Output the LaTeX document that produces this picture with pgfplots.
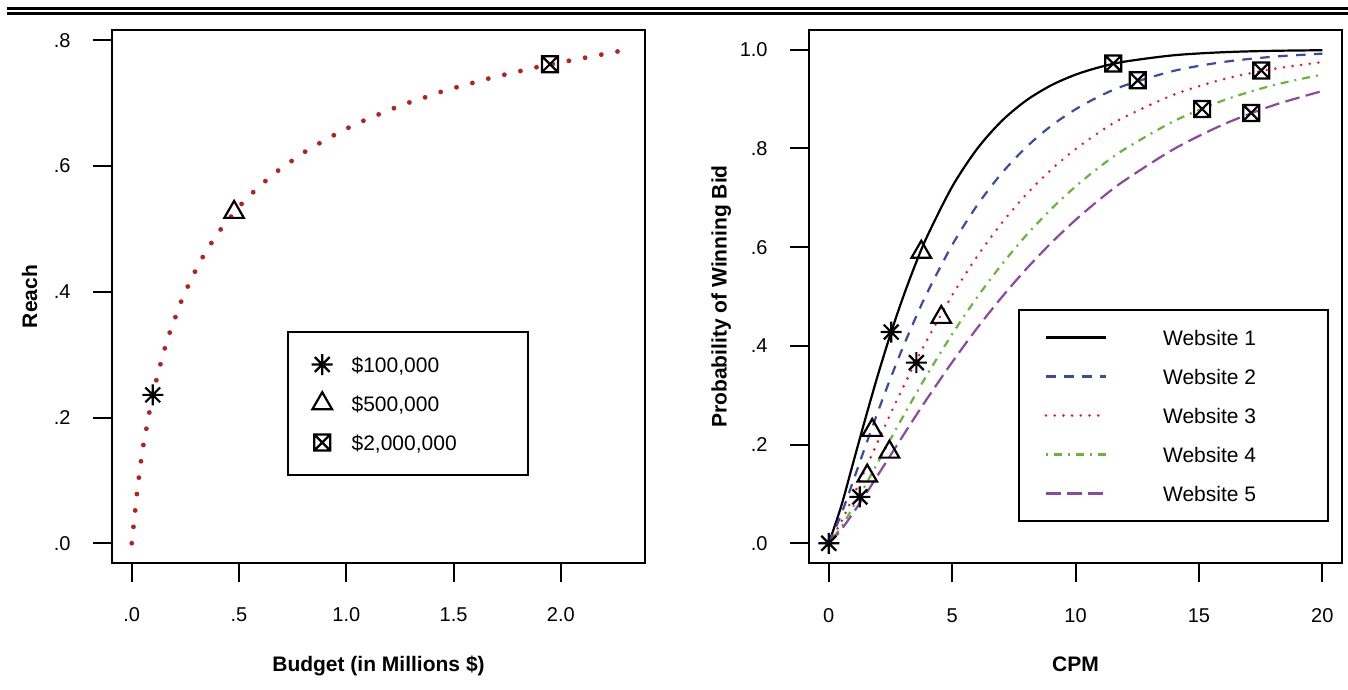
\documentclass[border=0pt]{standalone}
\usepackage{fontspec}
\setmainfont{Liberation Sans}
\usepackage{pgfplots}
\pgfplotsset{compat=1.18}

\definecolor{reach}{HTML}{B22222}
\definecolor{wblue}{HTML}{3A4BA0}
\definecolor{wred}{HTML}{F0141E}
\definecolor{wgreen}{HTML}{6CB33E}
\definecolor{wpurple}{HTML}{8A4A9E}

\pgfdeclareplotmark{rast}{%
  \pgfpathmoveto{\pgfqpoint{-5.25pt}{0pt}}\pgfpathlineto{\pgfqpoint{5.25pt}{0pt}}%
  \pgfpathmoveto{\pgfqpoint{0pt}{-5.25pt}}\pgfpathlineto{\pgfqpoint{0pt}{5.25pt}}%
  \pgfpathmoveto{\pgfqpoint{-3.7pt}{-3.7pt}}\pgfpathlineto{\pgfqpoint{3.7pt}{3.7pt}}%
  \pgfpathmoveto{\pgfqpoint{-3.7pt}{3.7pt}}\pgfpathlineto{\pgfqpoint{3.7pt}{-3.7pt}}%
  \pgfusepathqstroke}
\pgfdeclareplotmark{sqx}{%
  \pgfpathrectangle{\pgfqpoint{-4pt}{-4pt}}{\pgfqpoint{8pt}{8pt}}%
  \pgfpathmoveto{\pgfqpoint{-4pt}{-4pt}}\pgfpathlineto{\pgfqpoint{4pt}{4pt}}%
  \pgfpathmoveto{\pgfqpoint{-4pt}{4pt}}\pgfpathlineto{\pgfqpoint{4pt}{-4pt}}%
  \pgfusepathqstroke}

\newcommand{\lfont}{\fontsize{10.5}{12.5}\selectfont}

\pgfplotsset{
  base/.style={
    scale only axis, width=266.5pt, height=266.5pt,
    anchor=south west,
    axis line style={line width=1pt},
    tick align=outside, major tick length=9.5pt,
    tick pos=left,
    major tick style={line width=1pt, black},
    xticklabel style={anchor=base, yshift=-20pt, inner sep=0pt},
    yticklabel style={anchor=east, xshift=-11pt, inner sep=0pt},
    label style={font=\lfont\bfseries},
    xlabel style={at={(axis description cs:0.5,-0.2045)}, anchor=base},
    clip=false,
  },
  mk/.style={only marks, black, mark options={line width=1.1pt, solid}},
}

\begin{document}
\begin{tikzpicture}
\path[use as bounding box, fill=white] (0,0) rectangle (674pt,345pt);
\draw[line width=1.5pt] (3.5pt,340.6pt) -- (674pt,340.6pt);
\draw[line width=1.25pt] (3.5pt,338.2pt) -- (674pt,338.2pt);

% ---------------- left panel ----------------
\begin{axis}[base, at={(56pt,63.5pt)},
  xmin=-0.092, xmax=2.392, ymin=-0.0314, ymax=0.8164,
  xtick={0,0.5,1,1.5,2}, xticklabels={.0,.5,1.0,1.5,2.0},
  ytick={0,0.2,0.4,0.6,0.8}, yticklabels={.0,.2,.4,.6,.8},
  xlabel={Budget (in Millions \$)}, ylabel={Reach},
  ylabel style={at={(axis description cs:-0.1407,0.5)}, anchor=base},
  legend image code/.code={\draw[#1, mark repeat=1] plot coordinates {(0pt,0pt)};},
  legend cell align=left,
  legend style={at={(axis description cs:0.3278,0.4358)}, anchor=north west,
    draw=black, line width=1pt, inner xsep=12pt, inner ysep=9.4pt,
    row sep=5.5pt, column sep=9.45pt, font=\lfont,
    nodes={inner sep=0pt, minimum height=14pt, text height=7.5pt, text depth=0pt}},
]
\addlegendimage{mk, mark=rast}
\addlegendentry{\makebox[76pt][l]{\$100,000}}
\addlegendimage{mk, mark=triangle, mark size=5.65pt}
\addlegendentry{\makebox[76pt][l]{\$500,000}}
\addlegendimage{mk, mark=sqx}
\addlegendentry{\makebox[76pt][l]{\$2,000,000}}

\addplot[reach, line width=2.4pt, line cap=round, dash pattern=on 0pt off 8.25pt, forget plot] coordinates {
(0,0) (0.008,0.026) (0.016,0.052) (0.024,0.078) (0.033,0.104) (0.043,0.130)
(0.054,0.156) (0.068,0.182) (0.082,0.208) (0.100,0.235) (0.115,0.260)
(0.134,0.285) (0.154,0.310) (0.178,0.336) (0.204,0.360) (0.231,0.385)
(0.262,0.409) (0.296,0.433) (0.332,0.456) (0.374,0.479) (0.416,0.500)
(0.466,0.521) (0.515,0.541) (0.568,0.559) (0.626,0.577) (0.687,0.594)
(0.749,0.609) (0.813,0.624) (0.879,0.637) (0.947,0.650) (1.016,0.662)
(1.086,0.673) (1.157,0.683) (1.229,0.693) (1.301,0.702) (1.374,0.710)
(1.449,0.719) (1.522,0.726) (1.597,0.733) (1.672,0.740) (1.746,0.746)
(1.822,0.752) (1.897,0.758) (1.972,0.763) (2.047,0.768) (2.124,0.773)
(2.200,0.778) (2.276,0.783) (2.300,0.7845)};
\addplot[mk, mark=rast, forget plot] coordinates {(0.098,0.236)};
\addplot[mk, mark=triangle, mark size=5.65pt, forget plot] coordinates {(0.477,0.5265)};
\addplot[mk, mark=sqx, forget plot] coordinates {(1.949,0.762)};
\end{axis}

% ---------------- right panel ----------------
\begin{axis}[base, at={(404.5pt,63.5pt)},
  xmin=-0.8, xmax=20.8, ymin=-0.04, ymax=1.04,
  xtick={0,5,10,15,20}, xticklabels={0,5,10,15,20},
  ytick={0,0.2,0.4,0.6,0.8,1}, yticklabels={.0,.2,.4,.6,.8,1.0},
  xlabel={CPM}, ylabel={Probability of Winning Bid},
  ylabel style={at={(axis description cs:-0.1545,0.5)}, anchor=base},
  legend image code/.code={\draw[#1] (0pt,0pt) -- (30.2pt,0pt);},
  legend cell align=left,
  legend style={at={(axis description cs:0.3921,0.4765)}, anchor=north west,
    draw=black, line width=1pt, inner xsep=12.8pt, inner ysep=6.75pt,
    row sep=5.5pt, column sep=27.65pt, font=\lfont,
    nodes={inner sep=0pt, minimum height=14pt, text height=7.5pt, text depth=0pt}},
]
\addplot[black, line width=1.1pt, smooth] coordinates {
(0,0) (0.5,0.0743) (1,0.165) (1.5,0.2555) (2,0.3424) (2.5,0.4232) (3,0.4970)
(3.5,0.5637) (4,0.6232) (5,0.7224) (6,0.7983) (7,0.8552) (8,0.8971) (9,0.9276)
(10,0.9495) (11,0.9650) (12,0.9760) (14,0.9889) (16,0.9950) (18,0.9978) (20,0.9990)};
\addlegendentry{\makebox[69.5pt][l]{Website 1}}
\addplot[wblue, line width=1.1pt, smooth, dash pattern=on 4.75pt off 4.25pt] coordinates {
(0,0) (0.5,0.0580) (1,0.1276) (1.5,0.1985) (2,0.2676) (2.5,0.3338) (3,0.3963)
(3.5,0.4546) (4,0.5087) (5,0.6042) (6,0.6838) (7,0.7492) (8,0.8024) (9,0.8452)
(10,0.8793) (11,0.9064) (12,0.9277) (14,0.9574) (16,0.9752) (18,0.9858) (20,0.9920)};
\addlegendentry{\makebox[69.5pt][l]{Website 2}}
\addplot[wred, line width=1.4pt, smooth, line cap=round, dash pattern=on 0pt off 4.35pt] coordinates {
(0,0) (0.5,0.0430) (1,0.0962) (1.5,0.1517) (2,0.2073) (2.5,0.2619) (3,0.3147)
(3.5,0.3654) (4,0.4136) (5,0.5022) (6,0.5803) (7,0.6482) (8,0.7066) (9,0.7564)
(10,0.7986) (11,0.8342) (12,0.8640) (14,0.9093) (16,0.9402) (18,0.9610) (20,0.9748)};
\addlegendentry{\makebox[69.5pt][l]{Website 3}}
\addplot[wgreen, line width=1.1pt, smooth, dash pattern=on 1pt off 3pt on 4pt off 3pt] coordinates {
(0,0) (0.5,0.0326) (1,0.0744) (1.5,0.1191) (2,0.1648) (2.5,0.2107) (3,0.2558)
(3.5,0.3000) (4,0.3427) (5,0.4236) (6,0.4975) (7,0.5642) (8,0.6238) (9,0.6765)
(10,0.7229) (11,0.7635) (12,0.7988) (14,0.8556) (16,0.8975) (18,0.9279) (20,0.9497)};
\addlegendentry{\makebox[69.5pt][l]{Website 4}}
\addplot[wpurple, line width=1.1pt, smooth, dash pattern=on 7.3pt off 3.2pt] coordinates {
(0,0) (0.5,0.0272) (1,0.0621) (1.5,0.0998) (2,0.1388) (2.5,0.1781) (3,0.2173)
(3.5,0.2561) (4,0.2940) (5,0.3668) (6,0.4350) (7,0.4979) (8,0.5555) (9,0.6078)
(10,0.6551) (11,0.6976) (12,0.7355) (14,0.7991) (16,0.8488) (18,0.8871) (20,0.9163)};
\addlegendentry{\makebox[69.5pt][l]{Website 5}}

\addplot[mk, mark=rast, forget plot] coordinates {(0,0) (1.26,0.094) (2.53,0.428) (3.55,0.366)};
\addplot[mk, mark=triangle, mark size=5.65pt, forget plot] coordinates {
(3.75,0.590) (4.56,0.458) (1.76,0.229) (2.46,0.185) (1.56,0.1365)};
\addplot[mk, mark=sqx, forget plot] coordinates {
(11.53,0.972) (12.52,0.938) (17.53,0.958) (15.13,0.880) (17.12,0.872)};
\end{axis}
\end{tikzpicture}
\end{document}
